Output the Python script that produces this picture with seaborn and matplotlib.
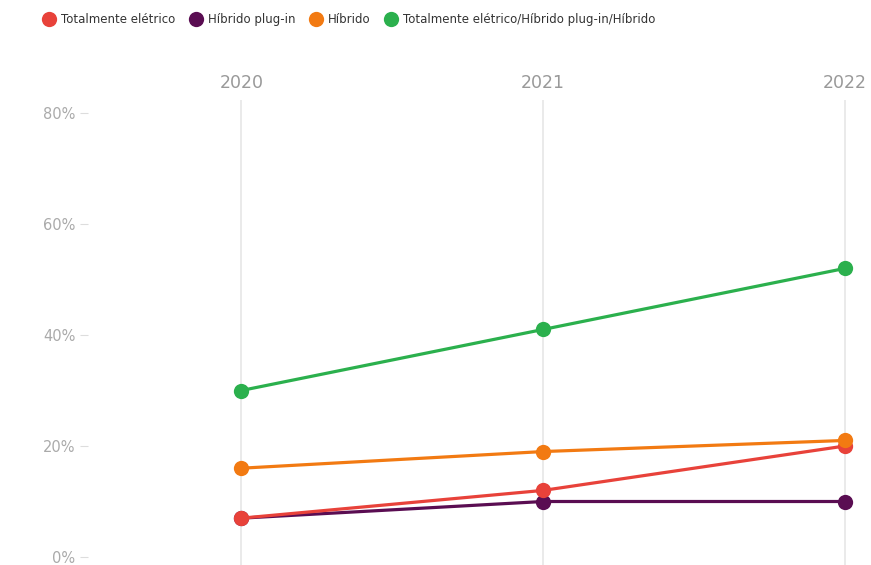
import matplotlib
matplotlib.use("Agg")
import matplotlib.pyplot as plt
import seaborn as sns
import pandas as pd
from matplotlib.lines import Line2D

years = [2020, 2021, 2022]
series_names = ["Totalmente elétrico", "Híbrido plug-in", "Híbrido",
                "Totalmente elétrico/Híbrido plug-in/Híbrido"]
eletrico = [7, 12, 20]
plugin = [7, 10, 10]
hibrido = [16, 19, 21]
total = [30, 41, 52]
y_ticks = [0, 20, 40, 60, 80]
y_tick_labels = ["0%", "20%", "40%", "60%", "80%"]
colors = ["#e8423a", "#5a0d52", "#f27a12", "#2bb04d"]

rows = []
for name, vals in zip(series_names, [eletrico, plugin, hibrido, total]):
    for yr, v in zip(years, vals):
        rows.append({"ano": yr, "valor": v, "serie": name})
df = pd.DataFrame(rows)

sns.set_theme(style="white")
plt.rcParams["font.family"] = ["DejaVu Sans"]

fig = plt.figure(figsize=(8.71, 5.65), dpi=100)
ax = fig.add_axes([88/871, 0.0, 777/871, 465/565])

order = [series_names[1], series_names[0], series_names[2], series_names[3]]
for name in order:
    c = colors[series_names.index(name)]
    sub = df[df["serie"] == name]
    sns.lineplot(data=sub, x="ano", y="valor", ax=ax, color=c, linewidth=2.3,
                 marker="o", markersize=11, markeredgewidth=0, legend=False)

x0 = 2020 - 153/301
x1 = 2022 + 20/301
ax.set_xlim(x0, x1)
ax.set_ylim(-8/111*20, 80 + 13/111*20)

ax.set_xticks(years)
ax.set_xticklabels([str(y) for y in years])
ax.xaxis.tick_top()
ax.tick_params(axis="x", length=0, pad=6, labelsize=12.5, labelcolor="#999999")
ax.set_yticks(y_ticks)
ax.set_yticklabels(y_tick_labels)
ax.tick_params(axis="y", length=6, width=0.8, color="#dddddd", pad=3,
               labelsize=10.5, labelcolor="#aaaaaa", left=True)
ax.set_xlabel("")
ax.set_ylabel("")
for s in ax.spines.values():
    s.set_visible(False)
ax.grid(axis="x", color="#e6e6e6", linewidth=1.2)
ax.grid(axis="y", visible=False)

handles = [Line2D([], [], marker="o", linestyle="", markersize=11,
                  markerfacecolor=c, markeredgewidth=0) for c in colors]
fig.legend(handles, series_names, loc="upper left", bbox_to_anchor=(0.036, 0.995),
           ncol=4, frameon=False, fontsize=8.5, handletextpad=0.45,
           columnspacing=1.1, handlelength=1.2, labelcolor="#333333")

fig.savefig("out.png", dpi=100)
